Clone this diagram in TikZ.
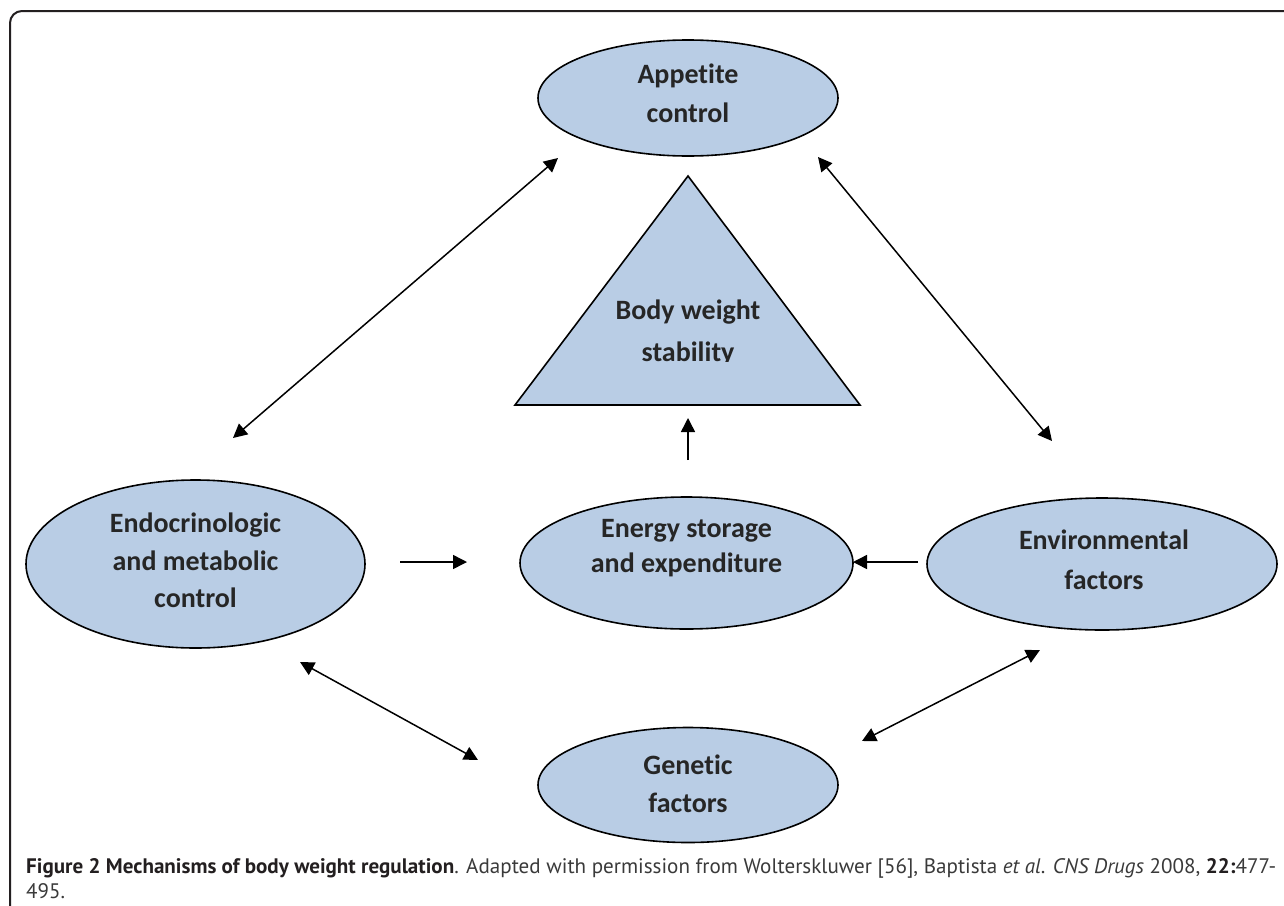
\documentclass[tikz,border=0pt]{standalone}
\usepackage{fontspec}
\setmainfont{Carlito}[Ligatures=NoCommon]
\newfontfamily\capfont{PT Sans}
\usetikzlibrary{shapes.geometric,arrows.meta}
\definecolor{boxfill}{HTML}{B9CDE5}
\definecolor{inkc}{HTML}{262626}
\definecolor{capc}{HTML}{231F20}
\definecolor{capr}{HTML}{3A3A3A}
\begin{document}
\begin{tikzpicture}[x=1pt,y=-1pt,
  oval/.style={ellipse,draw=black,line width=1.6pt,fill=boxfill,inner sep=0pt},
  txt/.style={align=center,inner sep=0pt,text=inkc,font=\fontsize{28}{#1}\selectfont\bfseries},
  txt/.default=38,
  lbl/.style={font=\fontsize{28}{38}\selectfont\bfseries,text=inkc,inner sep=0pt,anchor=base},
  link/.style={line width=1.5pt,-{Triangle[length=14pt,width=14pt]}},
  dlink/.style={line width=1.5pt,{Triangle[length=14pt,width=14pt]}-{Triangle[length=14pt,width=14pt]}},
  captxt/.style={font=\capfont\fontsize{21}{24}\selectfont,text=capr,inner sep=0pt,anchor=base west}]
\useasboundingbox (0,0) rectangle (1284,905);
\clip (0,0) rectangle (1284,905);
\fill[white] (0,0) rectangle (1284,905);
% frame
\draw[line width=2pt,capc,rounded corners=12pt] (10,960) -- (10,11) -- (1330,11);

% ellipses
\node[oval,minimum width=300pt,minimum height=116pt] (appetite) at (688,98) {};
\node[oval,minimum width=339pt,minimum height=168pt] (endo) at (195.5,564) {};
\node[oval,minimum width=333pt,minimum height=132pt] (energy) at (686.5,563) {};
\node[oval,minimum width=350pt,minimum height=132pt] (env) at (1102,564) {};
\node[oval,minimum width=300pt,minimum height=115pt] (genetic) at (688,785) {};

% ellipse texts
\node[txt=39] (appetite-t) at (688,93.5) {Appetite\\control};
\node[txt=37.5] (endo-t) at (195.5,560.5) {Endocrinologic\\and metabolic\\control};
\node[txt=34.5] (energy-t) at (686.5,548) {Energy storage\\and expenditure};
\node[txt=40] (env-t) at (1104,560) {Environmental\\factors};
\node[txt=38] (genetic-t) at (688,784) {Genetic\\factors};

% triangle
\filldraw[fill=boxfill,draw=black,line width=1.6pt] (688,176) -- (860,405) -- (515,405) -- cycle;
\node[lbl] (bw1) at (688,319) {Body weight};
\begin{scope}
\clip (500,330) rectangle (880,361.5);
\node[lbl] (bw2) at (688,361) {stability};
\end{scope}

% connector end points
\coordinate (a1) at (233,438);
\coordinate (a2) at (558,158);
\coordinate (b1) at (818,157);
\coordinate (b2) at (1052,441);
\coordinate (c1) at (400,562);
\coordinate (c2) at (467,562);
\coordinate (d1) at (918,562);
\coordinate (d2) at (853,562);
\coordinate (e1) at (688,460);
\coordinate (e2) at (688,418);
\coordinate (f1) at (300,662);
\coordinate (f2) at (478,760);
\coordinate (g1) at (862,741);
\coordinate (g2) at (1040,650);

\draw[dlink] (a1) -- (a2);
\draw[dlink] (b1) -- (b2);
\draw[link] (c1) -- (c2);
\draw[link] (d1) -- (d2);
\draw[link] (e1) -- (e2);
\draw[dlink] (f1) -- (f2);
\draw[dlink] (g1) -- (g2);

% caption
\node[captxt] (cap1) at (26,873) {\resizebox{1250pt}{\height}{\textcolor{capc}{\textbf{Figure 2 Mechanisms of body weight regulation}}. Adapted with permission from Wolterskluwer [56], Baptista \textit{et al}. \textit{CNS Drugs} 2008, \textcolor{capc}{\textbf{22:}}477-}};
\node[captxt] (cap2) at (26,898) {495.};
\end{tikzpicture}
\end{document}
